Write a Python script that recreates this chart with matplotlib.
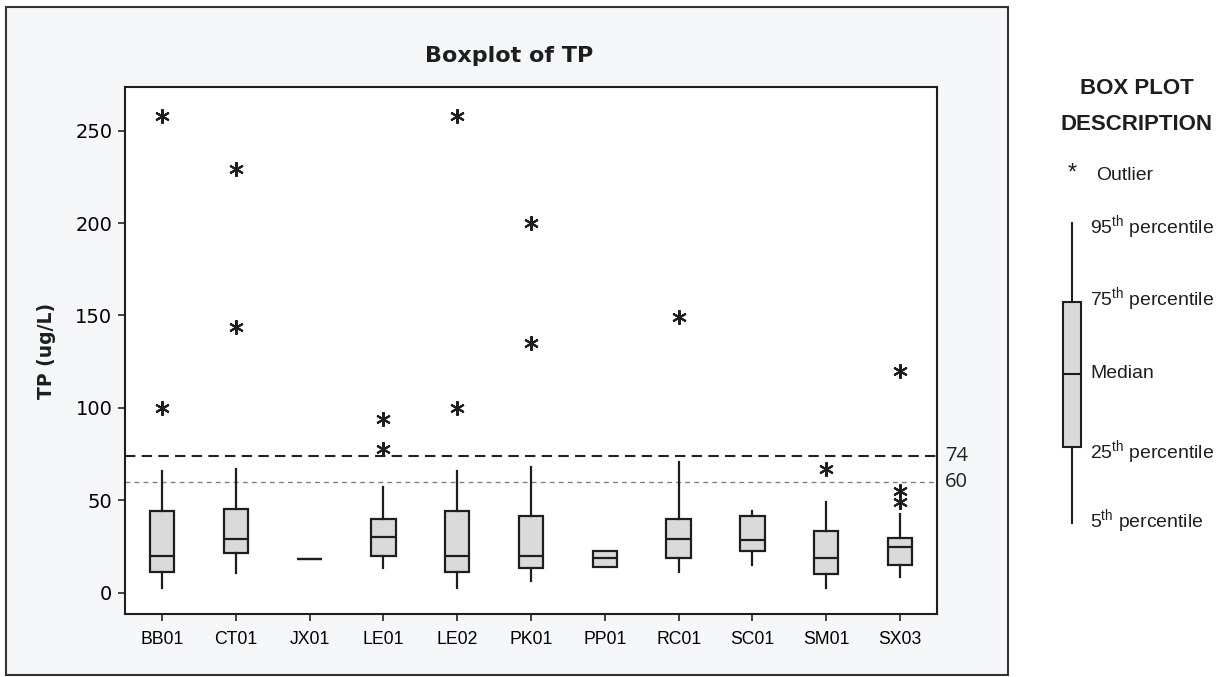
import matplotlib
matplotlib.use('Agg')
import matplotlib.pyplot as plt
from matplotlib import font_manager
from matplotlib.patches import Rectangle

# TP summary per site (ug/L): 5th/25th/50th/75th/95th percentiles and outliers
sites = ['BB01', 'CT01', 'JX01', 'LE01', 'LE02', 'PK01', 'PP01', 'RC01', 'SC01', 'SM01', 'SX03']
p05 = [2.7, 10.5, 18.0, 13.2, 2.7, 6.5, 14.1, 11.2, 15.0, 2.7, 8.5]
p25 = [11.2, 21.6, 18.0, 19.7, 11.2, 13.2, 14.1, 18.8, 22.7, 10.3, 15.0]
p50 = [19.9, 29.2, 18.0, 30.1, 19.9, 19.7, 18.8, 29.2, 28.5, 18.9, 24.6]
p75 = [44.4, 45.3, 18.0, 39.7, 44.4, 41.5, 22.7, 39.7, 41.5, 33.4, 29.4]
p95 = [65.9, 66.8, 18.0, 57.4, 65.9, 67.9, 22.7, 70.7, 44.4, 49.1, 42.6]
outliers = {
    'BB01': [258, 100],
    'CT01': [229, 144],
    'LE01': [94, 78],
    'LE02': [258, 100],
    'PK01': [200, 135],
    'RC01': [149],
    'SM01': [67],
    'SX03': [120, 55, 49],
}
ref_lines = [74, 60]

installed = {f.name for f in font_manager.fontManager.ttflist}
if 'Liberation Sans Narrow' in installed:
    narrow, nscale = 'Liberation Sans Narrow', 1.0
else:
    narrow, nscale = 'Liberation Sans', 0.82
plt.rcParams['mathtext.fontset'] = 'custom'
plt.rcParams['mathtext.rm'] = narrow

W, H = 1231, 677
fig = plt.figure(figsize=(W / 100, H / 100), dpi=100)
fig.patch.set_facecolor('white')

# outer frame around the chart
fig.patches.append(Rectangle((6 / W, 1 - 675 / H), 1002 / W, 668 / H, transform=fig.transFigure,
                             facecolor='#f5f7f8', edgecolor='#333333', lw=1.5, zorder=-5))

ax = fig.add_axes([125 / W, 1 - 614 / H, 812 / W, 527 / H])
ax.set_facecolor('white')

stats = []
for i, s in enumerate(sites):
    stats.append(dict(label=s, whislo=p05[i], q1=p25[i], med=p50[i], q3=p75[i],
                      whishi=p95[i], fliers=outliers.get(s, [])))

ax.bxp(stats, positions=range(1, len(sites) + 1), widths=0.33, patch_artist=True,
       showcaps=False,
       boxprops=dict(facecolor='#dadada', edgecolor='#1e1e1e', lw=1.6),
       medianprops=dict(color='#1e1e1e', lw=1.6),
       whiskerprops=dict(color='#1e1e1e', lw=1.6),
       flierprops=dict(marker=(6, 2, 0), markersize=10.5, markeredgecolor='#1e1e1e',
                       markeredgewidth=1.5, linestyle='none'))

ax.axhline(ref_lines[0], color='#222222', lw=1.5, ls=(0, (5, 3)), zorder=1)
ax.axhline(ref_lines[1], color='#808080', lw=1.0, ls=(0, (3.5, 3)), zorder=1)
for v in ref_lines:
    ax.text(1.01, v, str(v), transform=ax.get_yaxis_transform(), ha='left', va='center',
            fontsize=14.5, family='Open Sans', color='#222222')

ax.set_xlim(0.5, len(sites) + 0.5)
ax.set_ylim(-11.5, 273.6)
ax.set_yticks([0, 50, 100, 150, 200, 250])
ax.set_xticks(range(1, len(sites) + 1))
ax.set_xticklabels(sites, family=narrow, fontsize=15.5 * nscale)
for lbl in ax.get_yticklabels():
    lbl.set_fontsize(14)
ax.tick_params(axis='both', direction='out', length=5, width=1.2, color='#222222')
ax.tick_params(axis='x', pad=7)
ax.tick_params(axis='y', pad=4)
for sp in ax.spines.values():
    sp.set_linewidth(1.5)
    sp.set_color('#1e1e1e')

fig.text(509 / W, 1 - 56 / H, 'Boxplot of TP', ha='center', va='center',
         fontsize=16, fontweight='bold', color='#1e1e1e')
fig.text(46 / W, 1 - 351 / H, 'TP (ug/L)', rotation=90, ha='center', va='center',
         fontsize=13.5, fontweight='bold', color='#1e1e1e')

# legend panel on the right, laid out in figure pixels
leg = fig.add_axes([0, 0, 1, 1], facecolor='none')
leg.set_xlim(0, W)
leg.set_ylim(H, 0)
leg.axis('off')

title_size = 19.5 * nscale
leg.text(1137, 88, 'BOX PLOT', ha='center', va='center', family=narrow, fontsize=title_size,
         fontweight='bold', color='#1e1e1e')
leg.text(1137, 125, 'DESCRIPTION', ha='center', va='center', family=narrow, fontsize=title_size,
         fontweight='bold', color='#1e1e1e')
leg.text(1072, 174, '*', ha='center', va='center', family='Liberation Sans', fontsize=17,
         color='#1e1e1e')
leg.text(1096, 175, 'Outlier', ha='left', va='center', family=narrow, fontsize=17 * nscale,
         color='#1e1e1e')

key = dict(whislo=523, q1=447, med=374, q3=302, whishi=223, fliers=[])
leg.bxp([key], positions=[1071.7], widths=18, patch_artist=True, showcaps=False,
        manage_ticks=False,
        boxprops=dict(facecolor='#dadada', edgecolor='#1e1e1e', lw=1.5),
        medianprops=dict(color='#1e1e1e', lw=1.5),
        whiskerprops=dict(color='#1e1e1e', lw=1.5))

key_labels = [(228, '95$^{\\mathrm{th}}$ percentile'),
              (300, '75$^{\\mathrm{th}}$ percentile'),
              (374, 'Median'),
              (453, '25$^{\\mathrm{th}}$ percentile'),
              (522, '5$^{\\mathrm{th}}$ percentile')]
for y, txt in key_labels:
    leg.text(1090, y, txt, ha='left', va='center', family=narrow, fontsize=17 * nscale,
             color='#1e1e1e')

fig.savefig('out.png', dpi=100)
